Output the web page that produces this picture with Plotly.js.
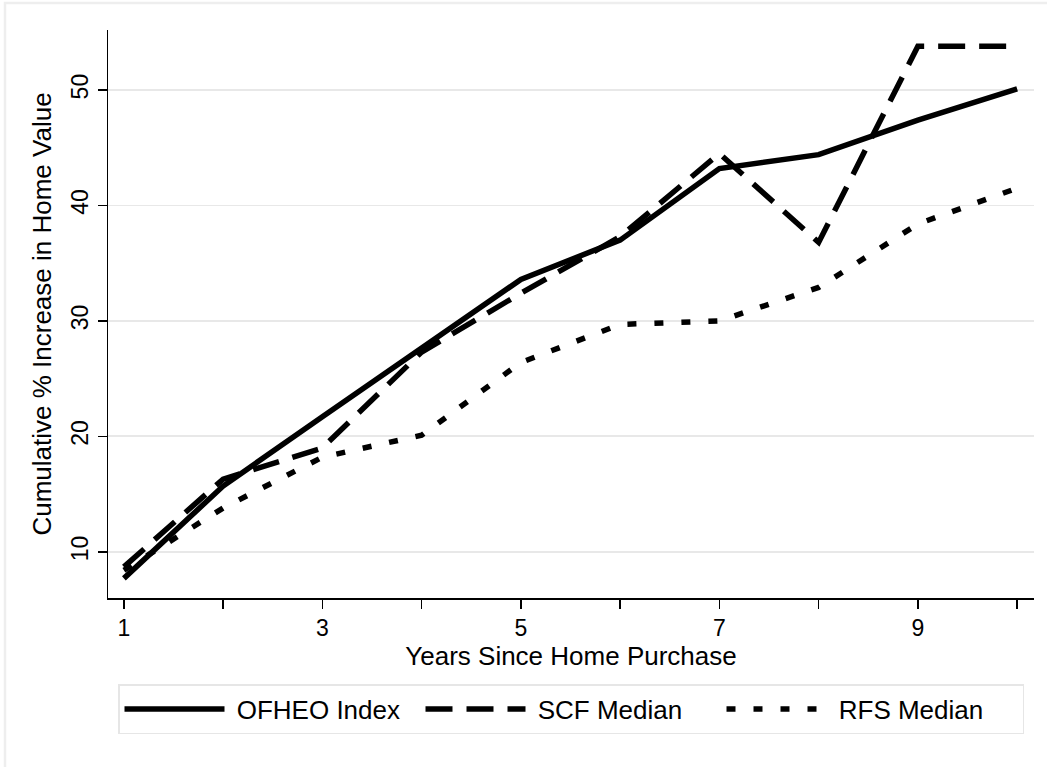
<!DOCTYPE html>
<html>
<head>
<meta charset="utf-8">
<script src="https://cdn.plot.ly/plotly-3.0.1.min.js"></script>
<style>
  html, body { margin: 0; padding: 0; background: #ffffff; }
  #chart { width: 1047px; height: 767px; }
</style>
</head>
<body>
<div id="chart"></div>
<script>
// ---- data ----
var years = [1, 2, 3, 4, 5, 6, 7, 8, 9, 10];
var ofheoIndex = [7.7, 15.7, 21.7, 27.6, 33.6, 37.0, 43.2, 44.4, 47.4, 50.1];
var scfMedian  = [8.7, 16.3, 19.0, 27.3, 32.4, 37.3, 44.5, 36.8, 53.8, 53.8];
var rfsMedian  = [8.4, 13.8, 18.2, 20.1, 26.4, 29.7, 30.0, 32.9, 38.4, 41.5];
var seriesNames = ['OFHEO Index', 'SCF Median', 'RFS Median'];
var xTickVals = [1, 2, 3, 4, 5, 6, 7, 8, 9, 10];
var xTickText = ['1', '', '3', '', '5', '', '7', '', '9', ''];
var yTickVals = [10, 20, 30, 40, 50];
var xTitle = 'Years Since Home Purchase';
var yTitle = 'Cumulative % Increase in Home Value';

var FONT = 'Liberation Sans, Arial, sans-serif';
var PAD = '\u00a0';

var traces = [
  { x: years, y: ofheoIndex, name: PAD + seriesNames[0], type: 'scatter', mode: 'lines',
    line: { color: '#000000', width: 5.5, dash: 'solid' } },
  { x: years, y: scfMedian, name: PAD + seriesNames[1], type: 'scatter', mode: 'lines',
    line: { color: '#000000', width: 5.5, dash: '27px,14px' } },
  { x: years, y: rfsMedian, name: PAD + seriesNames[2], type: 'scatter', mode: 'lines',
    line: { color: '#000000', width: 5.5, dash: '9px,18px' } }
];

var layout = {
  width: 1047, height: 767,
  paper_bgcolor: '#ffffff', plot_bgcolor: '#ffffff',
  margin: { l: 108, r: 13, t: 30, b: 169, pad: 0 },
  font: { family: FONT, color: '#000000', size: 23 },
  showlegend: true,
  legend: {
    orientation: 'h',
    x: (118 - 108) / 926, xanchor: 'left',
    y: (598 - 684) / 568, yanchor: 'top',
    bordercolor: '#e6e6e6', borderwidth: 1.5,
    bgcolor: '#ffffff',
    font: { family: FONT, size: 26, color: '#000000' },
    itemwidth: 100,
    entrywidth: 186, entrywidthmode: 'pixels',
    tracegroupgap: 0,
    itemclick: false, itemdoubleclick: false
  },
  xaxis: {
    range: [0.84, 10.17],
    tickmode: 'array', tickvals: xTickVals, ticktext: xTickText,
    ticks: 'outside', ticklen: 9, tickwidth: 1.5, tickcolor: '#000000',
    showline: true, linecolor: '#000000', linewidth: 1.5,
    showgrid: false, zeroline: false,
    tickfont: { family: FONT, size: 23, color: '#000000' },
    title: { text: xTitle, font: { family: FONT, size: 26, color: '#000000' }, standoff: 6 }
  },
  yaxis: {
    range: [6.0, 55.2],
    tickmode: 'array', tickvals: yTickVals,
    ticks: 'outside', ticklen: 9, tickwidth: 1.5, tickcolor: '#000000',
    tickangle: -90,
    showline: true, linecolor: '#000000', linewidth: 1.5,
    showgrid: true, gridcolor: '#e8e8e8', gridwidth: 1.8,
    zeroline: false,
    tickfont: { family: FONT, size: 23, color: '#000000' },
    title: { text: yTitle, font: { family: FONT, size: 26, color: '#000000' }, standoff: 8 }
  },
  shapes: [
    { type: 'rect', xref: 'paper', yref: 'paper', layer: 'below',
      x0: (5 - 108) / 926, x1: (1060 - 108) / 926,
      y0: (598 - 780) / 568, y1: (598 - 3) / 568,
      line: { color: '#eeeeee', width: 2.5 }, fillcolor: 'rgba(0,0,0,0)' }
  ]
};

Plotly.newPlot('chart', traces, layout, { displayModeBar: false, staticPlot: true });
</script>
</body>
</html>
